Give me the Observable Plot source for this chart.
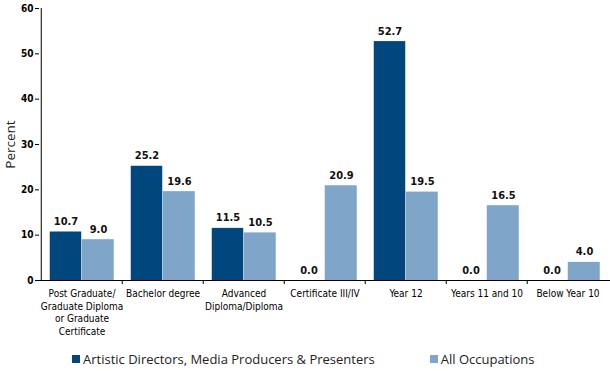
<!DOCTYPE html>
<html>
<head>
<meta charset="utf-8">
<script src="https://cdn.jsdelivr.net/npm/d3@7"></script>
<script src="https://cdn.jsdelivr.net/npm/@observablehq/plot@0.6"></script>
<style>
  body { margin: 0; background: #fff; }
  #chart { width: 610px; }
  .legend { display: flex; justify-content: flex-start; height: 31px; padding-top: 6px; box-sizing: border-box; align-items: center; font-family: "Open Sans", sans-serif; font-size: 13px; color: #222; }
  .legend .item { display: flex; align-items: center; }
  .legend .sw { width: 8px; height: 8px; margin-right: 3px; }
</style>
</head>
<body>
<div id="chart"></div>
<script>
const categories = [
  "Post Graduate/\nGraduate Diploma\nor Graduate\nCertificate",
  "Bachelor degree",
  "Advanced\nDiploma/Diploma",
  "Certificate III/IV",
  "Year 12",
  "Years 11 and 10",
  "Below Year 10"
];
const seriesNames = ["Artistic Directors, Media Producers & Presenters", "All Occupations"];
const artistic = [10.7, 25.2, 11.5, 0.0, 52.7, 0.0, 0.0];
const allOcc = [9.0, 19.6, 10.5, 20.9, 19.5, 16.5, 4.0];
const yTicks = [0, 10, 20, 30, 40, 50, 60];
const colors = ["#02467e", "#7fa5c9"];

const dataA = categories.map((c, i) => ({category: c, value: artistic[i]}));
const dataB = categories.map((c, i) => ({category: c, value: allOcc[i]}));

const plot = Plot.plot({
  width: 610,
  height: 340,
  marginLeft: 39,
  marginRight: 0,
  marginTop: 8,
  marginBottom: 60,
  x: {domain: categories, padding: 0, label: null},
  y: {domain: [0, 60], ticks: yTicks, label: null},
  style: {fontFamily: "DejaVu Sans Condensed, sans-serif", background: "#fff"},
  marks: [
    Plot.barY(dataA, {x: "category", y: "value", fill: colors[0], insetLeft: 8.75, insetRight: 40.75}),
    Plot.barY(dataB, {x: "category", y: "value", fill: colors[1], insetLeft: 40.75, insetRight: 8.25}),
    Plot.text(dataA, {x: "category", y: "value", text: d => d.value.toFixed(1), dx: -16, dy: -7, lineAnchor: "bottom", fontWeight: "bold", fontSize: 11, fill: "#111"}),
    Plot.text(dataB, {x: "category", y: "value", text: d => d.value.toFixed(1), dx: 16.5, dy: -7, lineAnchor: "bottom", fontWeight: "bold", fontSize: 11, fill: "#111"}),
    Plot.axisY({ticks: yTicks, tickSize: 4, tickPadding: 2, fontWeight: "bold", fontSize: 10, fontFamily: "Liberation Sans Narrow, DejaVu Sans Condensed, sans-serif", stroke: "#000", fill: "#000"}),
    Plot.axisX({tickSize: 0, tickPadding: 8, fontSize: 10, lineHeight: 1.25, fill: "#000", lineAnchor: "top"}),
    Plot.ruleX(categories.slice(1), {x: d => d, y1: 0, y2: 0, dx: -40.75, insetBottom: -4, stroke: "#000"}),
    Plot.ruleY([0], {stroke: "#000"}),
    Plot.ruleX([categories[0]], {x: d => d, dx: -40.75, stroke: "#000"}),
    Plot.text(["Percent"], {text: d => d, frameAnchor: "left", dx: -29, rotate: -90, fontSize: 13.5, fontFamily: "Open Sans, sans-serif", fill: "#222", textAnchor: "middle"})
  ]
});
document.getElementById("chart").appendChild(plot);

const legend = document.createElement("div");
legend.className = "legend";
seriesNames.forEach((name, i) => {
  const item = document.createElement("div");
  item.className = "item";
  item.style.marginLeft = i === 0 ? "72px" : "55px";
  const sw = document.createElement("span");
  sw.className = "sw";
  sw.style.background = colors[i];
  const t = document.createElement("span");
  t.textContent = name;
  item.appendChild(sw);
  item.appendChild(t);
  legend.appendChild(item);
});
document.getElementById("chart").appendChild(legend);
</script>
</body>
</html>
